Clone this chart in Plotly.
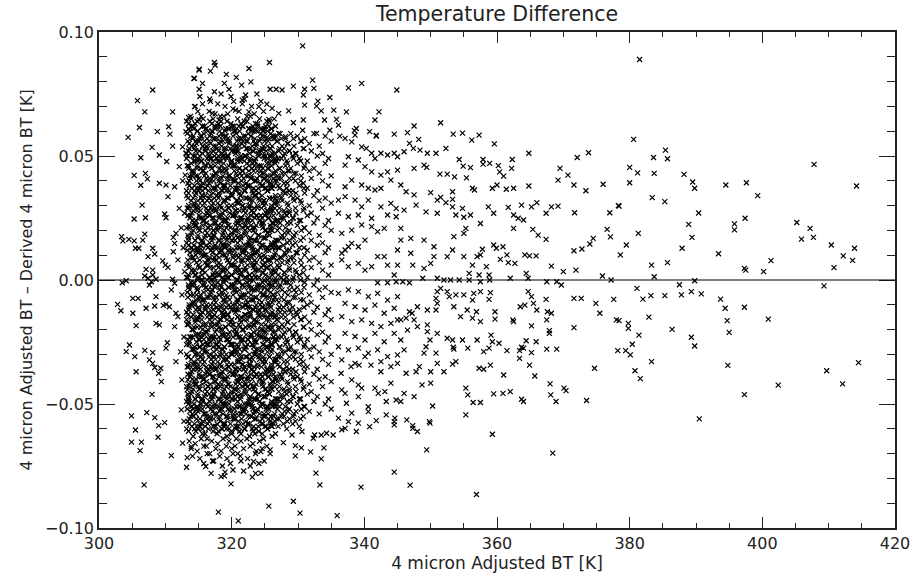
import plotly.graph_objects as go

# ---------------------------------------------------------------------------
# Brightness-temperature residuals: 4 micron adjusted BT [K] vs
# (adjusted BT - derived BT).  Values are kept region by region.
# ---------------------------------------------------------------------------

# Dense cloud, 313-326.6 K.  One row of BT values [K] per band, with the
# matching differences in millikelvin in core_diff_mk.
core_bt = [
    [313.2,313.9,314.5,315.4,315.9,316.7,317.2,318.0,318.8,319.3,320.1,320.9,321.4,322.3,322.8,323.6,324.2,325.1,325.7,326.4],
    [313.5,314.3,314.8,315.6,316.4,317.0,317.9,318.4,319.1,319.9,320.5,321.1,321.9,322.6,323.2,323.9,324.7,325.3,326.0,326.6],
    [313.3,314.0,314.9,315.3,316.1,316.9,317.5,318.2,318.6,319.5,320.3,320.7,321.6,322.1,323.0,323.4,324.4,324.9,325.6,326.2],
    [313.7,314.2,315.1,315.8,316.3,317.1,317.7,318.5,319.2,319.7,320.6,321.3,321.8,322.5,323.3,323.8,324.6,325.2,325.9,326.5],
    [313.4,314.1,314.7,315.5,316.2,316.6,317.4,318.1,319.0,319.4,320.2,321.0,321.5,322.4,322.9,323.7,324.3,324.8,325.5,326.3],
    [313.6,314.4,315.0,315.7,316.0,316.8,317.6,318.3,318.9,319.6,320.4,320.8,321.7,322.2,323.1,323.5,324.5,325.0,325.8,326.1],
    [313.2,314.0,314.6,315.2,316.0,316.5,317.3,318.0,318.7,319.2,320.0,320.6,321.2,322.0,322.7,323.2,324.0,324.6,325.4,326.0],
    [313.5,314.2,314.9,315.6,316.3,317.2,317.8,318.6,319.3,320.0,320.7,321.4,322.0,322.7,323.5,324.1,324.8,325.4,326.1,326.6],
    [313.2,313.9,314.5,315.4,315.9,316.7,317.2,318.0,318.8,319.3,320.1,320.9,321.4,322.3,322.8,323.6,324.2,325.1,325.7,326.4],
    [313.5,314.3,314.8,315.6,316.4,317.0,317.9,318.4,319.1,319.9,320.5,321.1,321.9,322.6,323.2,323.9,324.7,325.3,326.0,326.6],
    [313.3,314.0,314.9,315.3,316.1,316.9,317.5,318.2,318.6,319.5,320.3,320.7,321.6,322.1,323.0,323.4,324.4,324.9,325.6,326.2],
    [313.7,314.2,315.1,315.8,316.3,317.1,317.7,318.5,319.2,319.7,320.6,321.3,321.8,322.5,323.3,323.8,324.6,325.2,325.9,326.5],
    [313.4,314.1,314.7,315.5,316.2,316.6,317.4,318.1,319.0,319.4,320.2,321.0,321.5,322.4,322.9,323.7,324.3,324.8,325.5,326.3],
    [313.6,314.4,315.0,315.7,316.0,316.8,317.6,318.3,318.9,319.6,320.4,320.8,321.7,322.2,323.1,323.5,324.5,325.0,325.8,326.1],
    [313.2,314.0,314.6,315.2,316.0,316.5,317.3,318.0,318.7,319.2,320.0,320.6,321.2,322.0,322.7,323.2,324.0,324.6,325.4,326.0],
    [313.5,314.2,314.9,315.6,316.3,317.2,317.8,318.6,319.3,320.0,320.7,321.4,322.0,322.7,323.5,324.1,324.8,325.4,326.1,326.6],
    [313.2,313.9,314.5,315.4,315.9,316.7,317.2,318.0,318.8,319.3,320.1,320.9,321.4,322.3,322.8,323.6,324.2,325.1,325.7,326.4],
    [313.5,314.3,314.8,315.6,316.4,317.0,317.9,318.4,319.1,319.9,320.5,321.1,321.9,322.6,323.2,323.9,324.7,325.3,326.0,326.6],
    [313.3,314.0,314.9,315.3,316.1,316.9,317.5,318.2,318.6,319.5,320.3,320.7,321.6,322.1,323.0,323.4,324.4,324.9,325.6,326.2],
    [313.7,314.2,315.1,315.8,316.3,317.1,317.7,318.5,319.2,319.7,320.6,321.3,321.8,322.5,323.3,323.8,324.6,325.2,325.9,326.5],
    [313.4,314.1,314.7,315.5,316.2,316.6,317.4,318.1,319.0,319.4,320.2,321.0,321.5,322.4,322.9,323.7,324.3,324.8,325.5,326.3],
    [313.6,314.4,315.0,315.7,316.0,316.8,317.6,318.3,318.9,319.6,320.4,320.8,321.7,322.2,323.1,323.5,324.5,325.0,325.8,326.1],
    [313.2,314.0,314.6,315.2,316.0,316.5,317.3,318.0,318.7,319.2,320.0,320.6,321.2,322.0,322.7,323.2,324.0,324.6,325.4,326.0],
    [313.5,314.2,314.9,315.6,316.3,317.2,317.8,318.6,319.3,320.0,320.7,321.4,322.0,322.7,323.5,324.1,324.8,325.4,326.1,326.6],
    [313.2,313.9,314.5,315.4,315.9,316.7,317.2,318.0,318.8,319.3,320.1,320.9,321.4,322.3,322.8,323.6,324.2,325.1,325.7,326.4],
    [313.5,314.3,314.8,315.6,316.4,317.0,317.9,318.4,319.1,319.9,320.5,321.1,321.9,322.6,323.2,323.9,324.7,325.3,326.0,326.6],
    [313.3,314.0,314.9,315.3,316.1,316.9,317.5,318.2,318.6,319.5,320.3,320.7,321.6,322.1,323.0,323.4,324.4,324.9,325.6,326.2],
    [313.7,314.2,315.1,315.8,316.3,317.1,317.7,318.5,319.2,319.7,320.6,321.3,321.8,322.5,323.3,323.8,324.6,325.2,325.9,326.5],
    [313.4,314.1,314.7,315.5,316.2,316.6,317.4,318.1,319.0,319.4,320.2,321.0,321.5,322.4,322.9,323.7,324.3,324.8,325.5,326.3],
    [313.6,314.4,315.0,315.7,316.0,316.8,317.6,318.3,318.9,319.6,320.4,320.8,321.7,322.2,323.1,323.5,324.5,325.0,325.8,326.1],
    [313.2,314.0,314.6,315.2,316.0,316.5,317.3,318.0,318.7,319.2,320.0,320.6,321.2,322.0,322.7,323.2,324.0,324.6,325.4,326.0],
    [313.5,314.2,314.9,315.6,316.3,317.2,317.8,318.6,319.3,320.0,320.7,321.4,322.0,322.7,323.5,324.1,324.8,325.4,326.1,326.6],
    [313.2,313.9,314.5,315.4,315.9,316.7,317.2,318.0,318.8,319.3,320.1,320.9,321.4,322.3,322.8,323.6,324.2,325.1,325.7,326.4],
    [313.5,314.3,314.8,315.6,316.4,317.0,317.9,318.4,319.1,319.9,320.5,321.1,321.9,322.6,323.2,323.9,324.7,325.3,326.0,326.6],
    [313.3,314.0,314.9,315.3,316.1,316.9,317.5,318.2,318.6,319.5,320.3,320.7,321.6,322.1,323.0,323.4,324.4,324.9,325.6,326.2],
    [313.7,314.2,315.1,315.8,316.3,317.1,317.7,318.5,319.2,319.7,320.6,321.3,321.8,322.5,323.3,323.8,324.6,325.2,325.9,326.5],
    [313.4,314.1,314.7,315.5,316.2,316.6,317.4,318.1,319.0,319.4,320.2,321.0,321.5,322.4,322.9,323.7,324.3,324.8,325.5,326.3],
    [313.6,314.4,315.0,315.7,316.0,316.8,317.6,318.3,318.9,319.6,320.4,320.8,321.7,322.2,323.1,323.5,324.5,325.0,325.8,326.1],
    [313.2,314.0,314.6,315.2,316.0,316.5,317.3,318.0,318.7,319.2,320.0,320.6,321.2,322.0,322.7,323.2,324.0,324.6,325.4,326.0],
    [313.5,314.2,314.9,315.6,316.3,317.2,317.8,318.6,319.3,320.0,320.7,321.4,322.0,322.7,323.5,324.1,324.8,325.4,326.1,326.6],
    [313.2,313.9,314.5,315.4,315.9,316.7,317.2,318.0,318.8,319.3,320.1,320.9,321.4,322.3,322.8,323.6,324.2,325.1,325.7,326.4],
    [313.5,314.3,314.8,315.6,316.4,317.0,317.9,318.4,319.1,319.9,320.5,321.1,321.9,322.6,323.2,323.9,324.7,325.3,326.0,326.6],
    [313.3,314.0,314.9,315.3,316.1,316.9,317.5,318.2,318.6,319.5,320.3,320.7,321.6,322.1,323.0,323.4,324.4,324.9,325.6,326.2],
    [313.7,314.2,315.1,315.8,316.3,317.1,317.7,318.5,319.2,319.7,320.6,321.3,321.8,322.5,323.3,323.8,324.6,325.2,325.9,326.5],
    [313.4,314.1,314.7,315.5,316.2,316.6,317.4,318.1,319.0,319.4,320.2,321.0,321.5,322.4,322.9,323.7,324.3,324.8,325.5,326.3],
    [313.6,314.4,315.0,315.7,316.0,316.8,317.6,318.3,318.9,319.6,320.4,320.8,321.7,322.2,323.1,323.5,324.5,325.0,325.8,326.1],
    [313.2,314.0,314.6,315.2,316.0,316.5,317.3,318.0,318.7,319.2,320.0,320.6,321.2,322.0,322.7,323.2,324.0,324.6,325.4,326.0],
    [313.5,314.2,314.9,315.6,316.3,317.2,317.8,318.6,319.3,320.0,320.7,321.4,322.0,322.7,323.5,324.1,324.8,325.4,326.1,326.6],
    [313.2,313.9,314.5,315.4,315.9,316.7,317.2,318.0,318.8,319.3,320.1,320.9,321.4,322.3,322.8,323.6,324.2,325.1,325.7,326.4],
    [313.5,314.3,314.8,315.6,316.4,317.0,317.9,318.4,319.1,319.9,320.5,321.1,321.9,322.6,323.2,323.9,324.7,325.3,326.0,326.6],
    [313.3,314.0,314.9,315.3,316.1,316.9,317.5,318.2,318.6,319.5,320.3,320.7,321.6,322.1,323.0,323.4,324.4,324.9,325.6,326.2],
    [313.7,314.2,315.1,315.8,316.3,317.1,317.7,318.5,319.2,319.7,320.6,321.3,321.8,322.5,323.3,323.8,324.6,325.2,325.9,326.5],
    [313.4,314.1,314.7,315.5,316.2,316.6,317.4,318.1,319.0,319.4,320.2,321.0,321.5,322.4,322.9,323.7,324.3,324.8,325.5,326.3],
    [313.6,314.4,315.0,315.7,316.0,316.8,317.6,318.3,318.9,319.6,320.4,320.8,321.7,322.2,323.1,323.5,324.5,325.0,325.8,326.1],
    [313.2,314.0,314.6,315.2,316.0,316.5,317.3,318.0,318.7,319.2,320.0,320.6,321.2,322.0,322.7,323.2,324.0,324.6,325.4,326.0],
    [313.5,314.2,314.9,315.6,316.3,317.2,317.8,318.6,319.3,320.0,320.7,321.4,322.0,322.7,323.5,324.1,324.8,325.4,326.1,326.6],
    [313.2,313.9,314.5,315.4,315.9,316.7,317.2,318.0,318.8,319.3,320.1,320.9,321.4,322.3,322.8,323.6,324.2,325.1,325.7,326.4],
    [313.5,314.3,314.8,315.6,316.4,317.0,317.9,318.4,319.1,319.9,320.5,321.1,321.9,322.6,323.2,323.9,324.7,325.3,326.0,326.6],
    [313.3,314.0,314.9,315.3,316.1,316.9,317.5,318.2,318.6,319.5,320.3,320.7,321.6,322.1,323.0,323.4,324.4,324.9,325.6,326.2],
    [313.7,314.2,315.1,315.8,316.3,317.1,317.7,318.5,319.2,319.7,320.6,321.3,321.8,322.5,323.3,323.8,324.6,325.2,325.9,326.5],
    [313.4,314.1,314.7,315.5,316.2,316.6,317.4,318.1,319.0,319.4,320.2,321.0,321.5,322.4,322.9,323.7,324.3,324.8,325.5,326.3],
    [313.6,314.4,315.0,315.7,316.0,316.8,317.6,318.3,318.9,319.6,320.4,320.8,321.7,322.2,323.1,323.5,324.5,325.0,325.8,326.1],
    [313.2,314.0,314.6,315.2,316.0,316.5,317.3,318.0,318.7,319.2,320.0,320.6,321.2,322.0,322.7,323.2,324.0,324.6,325.4,326.0],
    [313.5,314.2,314.9,315.6,316.3,317.2,317.8,318.6,319.3,320.0,320.7,321.4,322.0,322.7,323.5,324.1,324.8,325.4,326.1,326.6],
    # upper fringe
    [313.8,314.9,315.7,316.6,317.5,318.3,319.4,320.2,321.1,322.3,323.4,324.8],
    [314.5,315.6,316.8,317.9,319.0,320.3,321.6,323.0,324.4],
    [315.2,316.7,318.4,319.9,321.9,323.8],
    # lower fringe
    [313.6,314.5,315.4,316.2,317.0,317.9,318.7,319.6,320.5,321.4,322.3,323.2,324.2,325.3],
    [313.9,314.8,315.8,316.7,317.6,318.4,319.2,320.0,320.9,321.8,322.8,323.7,324.6,325.8],
    [314.1,315.2,316.3,317.3,318.2,319.3,320.2,321.3,322.4,323.6,324.9],
    [315.8,317.1,318.6,319.8,321.4,322.8,324.1],
    [316.9,318.9,321.8,323.6],
]
core_diff_mk = [
    [64,65,63,66,62,64,65,63,66,64,62,65,63,64,66,63,65,62,64,65],
    [63,61,64,62,60,63,62,64,61,63,60,62,64,61,62,63,60,64,61,62],
    [59,62,60,58,61,59,62,60,58,61,60,59,62,58,61,60,59,61,62,58],
    [60,58,56,59,57,60,57,59,58,56,60,57,58,59,56,60,58,57,59,57],
    [56,57,55,58,54,56,57,55,58,56,54,57,55,56,58,55,57,54,56,57],
    [55,53,56,54,52,55,54,56,53,55,52,54,56,53,54,55,52,56,53,54],
    [51,54,52,50,53,51,54,52,50,53,52,51,54,50,53,52,51,53,54,50],
    [52,50,48,51,49,52,49,51,50,48,52,49,50,51,48,52,50,49,51,49],
    [49,47,50,48,46,49,48,50,47,49,46,48,50,47,48,49,46,50,47,48],
    [45,48,46,44,47,45,48,46,44,47,46,45,48,44,47,46,45,47,48,44],
    [46,44,42,45,43,46,43,45,44,42,46,43,44,45,42,46,44,43,45,43],
    [42,43,41,44,40,42,43,41,44,42,40,43,41,42,44,41,43,40,42,43],
    [39,42,40,38,41,39,42,40,38,41,40,39,42,38,41,40,39,41,42,38],
    [40,38,36,39,37,40,37,39,38,36,40,37,38,39,36,40,38,37,39,37],
    [36,37,35,38,34,36,37,35,38,36,34,37,35,36,38,35,37,34,36,37],
    [35,33,36,34,32,35,34,36,33,35,32,34,36,33,34,35,32,36,33,34],
    [34,32,30,33,31,34,31,33,32,30,34,31,32,33,30,34,32,31,33,31],
    [30,31,29,32,28,30,31,29,32,30,28,31,29,30,32,29,31,28,30,31],
    [29,27,30,28,26,29,28,30,27,29,26,28,30,27,28,29,26,30,27,28],
    [25,28,26,24,27,25,28,26,24,27,26,25,28,24,27,26,25,27,28,24],
    [26,24,22,25,23,26,23,25,24,22,26,23,24,25,22,26,24,23,25,23],
    [22,23,21,24,20,22,23,21,24,22,20,23,21,22,24,21,23,20,22,23],
    [21,19,22,20,18,21,20,22,19,21,18,20,22,19,20,21,18,22,19,20],
    [17,20,18,16,19,17,20,18,16,19,18,17,20,16,19,18,17,19,20,16],
    [15,18,16,14,17,15,18,16,14,17,16,15,18,14,17,16,15,17,18,14],
    [16,14,12,15,13,16,13,15,14,12,16,13,14,15,12,16,14,13,15,13],
    [12,13,11,14,10,12,13,11,14,12,10,13,11,12,14,11,13,10,12,13],
    [11,9,12,10,8,11,10,12,9,11,8,10,12,9,10,11,8,12,9,10],
    [8,9,7,10,6,8,9,7,10,8,6,9,7,8,10,7,9,6,8,9],
    [5,8,6,4,7,5,8,6,4,7,6,5,8,4,7,6,5,7,8,4],
    [6,4,2,5,3,6,3,5,4,2,6,3,4,5,2,6,4,3,5,3],
    [2,3,1,4,0,2,3,1,4,2,0,3,1,2,4,1,3,0,2,3],
    [1,-1,2,0,-2,1,0,2,-1,1,-2,0,2,-1,0,1,-2,2,-1,0],
    [-2,-1,-3,0,-4,-2,-1,-3,0,-2,-4,-1,-3,-2,0,-3,-1,-4,-2,-1],
    [-5,-2,-4,-6,-3,-5,-2,-4,-6,-3,-4,-5,-2,-6,-3,-4,-5,-3,-2,-6],
    [-4,-6,-8,-5,-7,-4,-7,-5,-6,-8,-4,-7,-6,-5,-8,-4,-6,-7,-5,-7],
    [-7,-9,-6,-8,-10,-7,-8,-6,-9,-7,-10,-8,-6,-9,-8,-7,-10,-6,-9,-8],
    [-10,-9,-11,-8,-12,-10,-9,-11,-8,-10,-12,-9,-11,-10,-8,-11,-9,-12,-10,-9],
    [-13,-10,-12,-14,-11,-13,-10,-12,-14,-11,-12,-13,-10,-14,-11,-12,-13,-11,-10,-14],
    [-12,-14,-16,-13,-15,-12,-15,-13,-14,-16,-12,-15,-14,-13,-16,-12,-14,-15,-13,-15],
    [-16,-15,-17,-14,-18,-16,-15,-17,-14,-16,-18,-15,-17,-16,-14,-17,-15,-18,-16,-15],
    [-17,-19,-16,-18,-20,-17,-18,-16,-19,-17,-20,-18,-16,-19,-18,-17,-20,-16,-19,-18],
    [-18,-20,-22,-19,-21,-18,-21,-19,-20,-22,-18,-21,-20,-19,-22,-18,-20,-21,-19,-21],
    [-23,-20,-22,-24,-21,-23,-20,-22,-24,-21,-22,-23,-20,-24,-21,-22,-23,-21,-20,-24],
    [-24,-23,-25,-22,-26,-24,-23,-25,-22,-24,-26,-23,-25,-24,-22,-25,-23,-26,-24,-23],
    [-25,-27,-24,-26,-28,-25,-26,-24,-27,-25,-28,-26,-24,-27,-26,-25,-28,-24,-27,-26],
    [-26,-28,-30,-27,-29,-26,-29,-27,-28,-30,-26,-29,-28,-27,-30,-26,-28,-29,-27,-29],
    [-31,-28,-30,-32,-29,-31,-28,-30,-32,-29,-30,-31,-28,-32,-29,-30,-31,-29,-28,-32],
    [-30,-32,-34,-31,-33,-30,-33,-31,-32,-34,-30,-33,-32,-31,-34,-30,-32,-33,-31,-33],
    [-34,-33,-35,-32,-36,-34,-33,-35,-32,-34,-36,-33,-35,-34,-32,-35,-33,-36,-34,-33],
    [-35,-37,-34,-36,-38,-35,-36,-34,-37,-35,-38,-36,-34,-37,-36,-35,-38,-34,-37,-36],
    [-39,-36,-38,-40,-37,-39,-36,-38,-40,-37,-38,-39,-36,-40,-37,-38,-39,-37,-36,-40],
    [-38,-40,-42,-39,-41,-38,-41,-39,-40,-42,-38,-41,-40,-39,-42,-38,-40,-41,-39,-41],
    [-42,-41,-43,-40,-44,-42,-41,-43,-40,-42,-44,-41,-43,-42,-40,-43,-41,-44,-42,-41],
    [-43,-45,-42,-44,-46,-43,-44,-42,-45,-43,-46,-44,-42,-45,-44,-43,-46,-42,-45,-44],
    [-47,-44,-46,-48,-45,-47,-44,-46,-48,-45,-46,-47,-44,-48,-45,-46,-47,-45,-44,-48],
    [-49,-46,-48,-50,-47,-49,-46,-48,-50,-47,-48,-49,-46,-50,-47,-48,-49,-47,-46,-50],
    [-48,-50,-52,-49,-51,-48,-51,-49,-50,-52,-48,-51,-50,-49,-52,-48,-50,-51,-49,-51],
    [-52,-51,-53,-50,-54,-52,-51,-53,-50,-52,-54,-51,-53,-52,-50,-53,-51,-54,-52,-51],
    [-53,-55,-52,-54,-56,-53,-54,-52,-55,-53,-56,-54,-52,-55,-54,-53,-56,-52,-55,-54],
    [-57,-54,-56,-58,-55,-57,-54,-56,-58,-55,-56,-57,-54,-58,-55,-56,-57,-55,-54,-58],
    [-56,-58,-60,-57,-59,-56,-59,-57,-58,-60,-56,-59,-58,-57,-60,-56,-58,-59,-57,-59],
    [-60,-59,-61,-58,-62,-60,-59,-61,-58,-60,-62,-59,-61,-60,-58,-61,-59,-62,-60,-59],
    [-61,-63,-60,-62,-64,-61,-62,-60,-63,-61,-64,-62,-60,-63,-62,-61,-64,-60,-63,-62],
    [66,68,65,68,67,66,67,69,68,66,67,68],
    [70,71,72,71,70,72,71,70,72],
    [74,73,75,74,73,75],
    [-65,-66,-64,-67,-65,-66,-64,-65,-67,-65,-64,-66,-65,-67],
    [-68,-69,-67,-70,-68,-69,-67,-68,-70,-68,-67,-69,-68,-70],
    [-71,-72,-70,-73,-71,-72,-70,-71,-72,-70,-73],
    [-74,-73,-75,-74,-73,-75,-74],
    [-78,-79,-77,-78],
]

# Points lying between the rows above, inside the darkest part of the cloud
core_fill_bt = [
    [313.5,314.2,314.8,315.6,316.2,317.0,317.5,318.3,319.0,319.6,320.4,321.2,321.7,322.6,323.1,323.9,324.5,325.4,326.0],
    [313.8,314.6,315.2,315.9,316.7,317.3,318.1,318.7,319.4,320.2,320.8,321.5,322.2,322.9,323.5,324.2,325.0,325.6,326.3],
    [313.6,314.4,315.1,315.6,316.4,317.2,317.8,318.5,318.9,319.8,320.6,321.0,321.9,322.4,323.3,323.7,324.7,325.2,325.9],
    [313.4,314.5,314.9,315.5,316.6,316.9,317.4,318.2,318.8,319.5,320.0,320.9,321.3,322.1,322.8,323.4,324.1,324.9,325.7],
    [313.5,314.2,314.8,315.6,316.2,317.0,317.5,318.3,319.0,319.6,320.4,321.2,321.7,322.6,323.1,323.9,324.5,325.4,326.0],
    [313.8,314.6,315.2,315.9,316.7,317.3,318.1,318.7,319.4,320.2,320.8,321.5,322.2,322.9,323.5,324.2,325.0,325.6,326.3],
    [313.6,314.4,315.1,315.6,316.4,317.2,317.8,318.5,318.9,319.8,320.6,321.0,321.9,322.4,323.3,323.7,324.7,325.2,325.9],
    [313.4,314.5,314.9,315.5,316.6,316.9,317.4,318.2,318.8,319.5,320.0,320.9,321.3,322.1,322.8,323.4,324.1,324.9,325.7],
    [313.5,314.2,314.8,315.6,316.2,317.0,317.5,318.3,319.0,319.6,320.4,321.2,321.7,322.6,323.1,323.9,324.5,325.4,326.0],
    [313.8,314.6,315.2,315.9,316.7,317.3,318.1,318.7,319.4,320.2,320.8,321.5,322.2,322.9,323.5,324.2,325.0,325.6,326.3],
    [313.6,314.4,315.1,315.6,316.4,317.2,317.8,318.5,318.9,319.8,320.6,321.0,321.9,322.4,323.3,323.7,324.7,325.2,325.9],
    [313.4,314.5,314.9,315.5,316.6,316.9,317.4,318.2,318.8,319.5,320.0,320.9,321.3,322.1,322.8,323.4,324.1,324.9,325.7],
    [313.5,314.2,314.8,315.6,316.2,317.0,317.5,318.3,319.0,319.6,320.4,321.2,321.7,322.6,323.1,323.9,324.5,325.4,326.0],
    [313.8,314.6,315.2,315.9,316.7,317.3,318.1,318.7,319.4,320.2,320.8,321.5,322.2,322.9,323.5,324.2,325.0,325.6,326.3],
    [313.6,314.4,315.1,315.6,316.4,317.2,317.8,318.5,318.9,319.8,320.6,321.0,321.9,322.4,323.3,323.7,324.7,325.2,325.9],
    [313.4,314.5,314.9,315.5,316.6,316.9,317.4,318.2,318.8,319.5,320.0,320.9,321.3,322.1,322.8,323.4,324.1,324.9,325.7],
    [313.5,314.2,314.8,315.6,316.2,317.0,317.5,318.3,319.0,319.6,320.4,321.2,321.7,322.6,323.1,323.9,324.5,325.4,326.0],
    [313.8,314.6,315.2,315.9,316.7,317.3,318.1,318.7,319.4,320.2,320.8,321.5,322.2,322.9,323.5,324.2,325.0,325.6,326.3],
    [313.6,314.4,315.1,315.6,316.4,317.2,317.8,318.5,318.9,319.8,320.6,321.0,321.9,322.4,323.3,323.7,324.7,325.2,325.9],
    [313.4,314.5,314.9,315.5,316.6,316.9,317.4,318.2,318.8,319.5,320.0,320.9,321.3,322.1,322.8,323.4,324.1,324.9,325.7],
    [313.5,314.2,314.8,315.6,316.2,317.0,317.5,318.3,319.0,319.6,320.4,321.2,321.7,322.6,323.1,323.9,324.5,325.4,326.0],
    [313.8,314.6,315.2,315.9,316.7,317.3,318.1,318.7,319.4,320.2,320.8,321.5,322.2,322.9,323.5,324.2,325.0,325.6,326.3],
    [313.6,314.4,315.1,315.6,316.4,317.2,317.8,318.5,318.9,319.8,320.6,321.0,321.9,322.4,323.3,323.7,324.7,325.2,325.9],
    [313.4,314.5,314.9,315.5,316.6,316.9,317.4,318.2,318.8,319.5,320.0,320.9,321.3,322.1,322.8,323.4,324.1,324.9,325.7],
    [313.5,314.2,314.8,315.6,316.2,317.0,317.5,318.3,319.0,319.6,320.4,321.2,321.7,322.6,323.1,323.9,324.5,325.4,326.0],
    [313.8,314.6,315.2,315.9,316.7,317.3,318.1,318.7,319.4,320.2,320.8,321.5,322.2,322.9,323.5,324.2,325.0,325.6,326.3],
    [313.6,314.4,315.1,315.6,316.4,317.2,317.8,318.5,318.9,319.8,320.6,321.0,321.9,322.4,323.3,323.7,324.7,325.2,325.9],
    [313.4,314.5,314.9,315.5,316.6,316.9,317.4,318.2,318.8,319.5,320.0,320.9,321.3,322.1,322.8,323.4,324.1,324.9,325.7],
    [313.5,314.2,314.8,315.6,316.2,317.0,317.5,318.3,319.0,319.6,320.4,321.2,321.7,322.6,323.1,323.9,324.5,325.4,326.0],
    [313.8,314.6,315.2,315.9,316.7,317.3,318.1,318.7,319.4,320.2,320.8,321.5,322.2,322.9,323.5,324.2,325.0,325.6,326.3],
    [313.6,314.4,315.1,315.6,316.4,317.2,317.8,318.5,318.9,319.8,320.6,321.0,321.9,322.4,323.3,323.7,324.7,325.2,325.9],
]
core_fill_diff_mk = [
    [61,62,60,62,61,60,61,62,60,61,62,60,62,61,60,62,61,60,61],
    [58,56,57,56,58,57,58,56,57,58,56,57,56,58,57,56,58,57,58],
    [53,54,52,54,53,52,53,54,52,53,54,52,54,53,52,54,53,52,53],
    [50,48,49,48,50,49,50,48,49,50,48,49,48,50,49,48,50,49,50],
    [46,44,45,44,46,45,46,44,45,46,44,45,44,46,45,44,46,45,46],
    [41,42,40,42,41,40,41,42,40,41,42,40,42,41,40,42,41,40,41],
    [38,36,37,36,38,37,38,36,37,38,36,37,36,38,37,36,38,37,38],
    [33,34,32,34,33,32,33,34,32,33,34,32,34,33,32,34,33,32,33],
    [29,30,28,30,29,28,29,30,28,29,30,28,30,29,28,30,29,28,29],
    [26,24,25,24,26,25,26,24,25,26,24,25,24,26,25,24,26,25,26],
    [21,22,20,22,21,20,21,22,20,21,22,20,22,21,20,22,21,20,21],
    [18,16,17,16,18,17,18,16,17,18,16,17,16,18,17,16,18,17,18],
    [14,12,13,12,14,13,14,12,13,14,12,13,12,14,13,12,14,13,14],
    [9,10,8,10,9,8,9,10,8,9,10,8,10,9,8,10,9,8,9],
    [6,4,5,4,6,5,6,4,5,6,4,5,4,6,5,4,6,5,6],
    [1,2,0,2,1,0,1,2,0,1,2,0,2,1,0,2,1,0,1],
    [-3,-2,-4,-2,-3,-4,-3,-2,-4,-3,-2,-4,-2,-3,-4,-2,-3,-4,-3],
    [-6,-8,-7,-8,-6,-7,-6,-8,-7,-6,-8,-7,-8,-6,-7,-8,-6,-7,-6],
    [-11,-10,-12,-10,-11,-12,-11,-10,-12,-11,-10,-12,-10,-11,-12,-10,-11,-12,-11],
    [-14,-16,-15,-16,-14,-15,-14,-16,-15,-14,-16,-15,-16,-14,-15,-16,-14,-15,-14],
    [-18,-20,-19,-20,-18,-19,-18,-20,-19,-18,-20,-19,-20,-18,-19,-20,-18,-19,-18],
    [-23,-22,-24,-22,-23,-24,-23,-22,-24,-23,-22,-24,-22,-23,-24,-22,-23,-24,-23],
    [-26,-28,-27,-28,-26,-27,-26,-28,-27,-26,-28,-27,-28,-26,-27,-28,-26,-27,-26],
    [-31,-30,-32,-30,-31,-32,-31,-30,-32,-31,-30,-32,-30,-31,-32,-30,-31,-32,-31],
    [-35,-34,-36,-34,-35,-36,-35,-34,-36,-35,-34,-36,-34,-35,-36,-34,-35,-36,-35],
    [-38,-40,-39,-40,-38,-39,-38,-40,-39,-38,-40,-39,-40,-38,-39,-40,-38,-39,-38],
    [-43,-42,-44,-42,-43,-44,-43,-42,-44,-43,-42,-44,-42,-43,-44,-42,-43,-44,-43],
    [-46,-48,-47,-48,-46,-47,-46,-48,-47,-46,-48,-47,-48,-46,-47,-48,-46,-47,-46],
    [-50,-52,-51,-52,-50,-51,-50,-52,-51,-50,-52,-51,-52,-50,-51,-52,-50,-51,-50],
    [-55,-54,-56,-54,-55,-56,-55,-54,-56,-55,-54,-56,-54,-55,-56,-54,-55,-56,-55],
    [-58,-60,-59,-60,-58,-59,-58,-60,-59,-58,-60,-59,-60,-58,-59,-60,-58,-59,-58],
]

# Shoulder of the cloud, 326.5-335.5 K (differences in millikelvin)
shoulder_bt = [
    [326.6,327.3,328.1,328.9,329.9,331.0,332.4,334.1],
    [326.9,327.6,328.5,329.4,330.5,331.7,333.2,335.0],
    [326.5,327.1,327.9,328.7,329.6,330.8,332.0,333.7],
    [327.0,327.8,328.3,329.2,330.2,331.4,332.9,334.6],
    [326.6,327.3,328.1,328.9,329.9,331.0,332.4,334.1],
    [326.9,327.6,328.5,329.4,330.5,331.7,333.2,335.0],
    [326.5,327.1,327.9,328.7,329.6,330.8,332.0,333.7],
    [327.0,327.8,328.3,329.2,330.2,331.4,332.9,334.6],
    [326.6,327.3,328.1,328.9,329.9,331.0,332.4,334.1],
    [326.9,327.6,328.5,329.4,330.5,331.7,333.2,335.0],
    [326.5,327.1,327.9,328.7,329.6,330.8,332.0,333.7],
    [327.0,327.8,328.3,329.2,330.2,331.4,332.9,334.6],
    [326.6,327.3,328.1,328.9,329.9,331.0,332.4,334.1],
    [326.9,327.6,328.5,329.4,330.5,331.7,333.2,335.0],
    [326.5,327.1,327.9,328.7,329.6,330.8,332.0,333.7],
    [327.0,327.8,328.3,329.2,330.2,331.4,332.9,334.6],
    [326.6,327.3,328.1,328.9,329.9,331.0,332.4,334.1],
    [326.9,327.6,328.5,329.4,330.5,331.7,333.2,335.0],
    [326.5,327.1,327.9,328.7,329.6,330.8,332.0,333.7],
    [327.0,327.8,328.3,329.2,330.2,331.4,332.9,334.6],
    [326.6,327.3,328.1,328.9,329.9,331.0,332.4,334.1],
    [326.9,327.6,328.5,329.4,330.5,331.7,333.2,335.0],
    [326.5,327.1,327.9,328.7,329.6,330.8,332.0,333.7],
    [327.0,327.8,328.3,329.2,330.2,331.4,332.9,334.6],
    [326.6,327.3,328.1,328.9,329.9,331.0,332.4,334.1],
    [326.9,327.6,328.5,329.4,330.5,331.7,333.2,335.0],
    [326.5,327.1,327.9,328.7,329.6,330.8,332.0,333.7],
    [327.0,327.8,328.3,329.2,330.2,331.4,332.9,334.6],
    [326.6,327.3,328.1,328.9,329.9,331.0,332.4,334.1],
    [326.9,327.6,328.5,329.4,330.5,331.7,333.2,335.0],
    [326.5,327.1,327.9,328.7,329.6,330.8,332.0,333.7],
    [327.0,327.8,328.3,329.2,330.2,331.4,332.9,334.6],
    [326.6,327.3,328.1,328.9,329.9,331.0,332.4,334.1],
    [326.9,327.6,328.5,329.4,330.5,331.7,333.2,335.0],
    [326.5,327.1,327.9,328.7,329.6,330.8,332.0,333.7],
    [327.0,327.8,328.3,329.2,330.2,331.4,332.9,334.6],
    [326.6,327.3,328.1,328.9,329.9,331.0,332.4,334.1],
    [326.9,327.6,328.5,329.4,330.5,331.7,333.2,335.0],
    [326.5,327.1,327.9,328.7,329.6,330.8],
    [327.0,327.8,328.3,329.2,330.2],
    # inner edge of the shoulder
    [326.8,327.5,328.4,329.3,330.4],
    [327.2,328.0,328.7,329.7,330.9],
    [326.8,327.5,328.4,329.3,330.4],
    [327.2,328.0,328.7,329.7,330.9],
    [326.8,327.5,328.4,329.3,330.4],
    [327.2,328.0,328.7,329.7,330.9],
    [326.8,327.5,328.4,329.3,330.4],
    [327.2,328.0,328.7,329.7,330.9],
    [326.8,327.5,328.4,329.3,330.4],
    [327.2,328.0,328.7,329.7,330.9],
    [326.8,327.5,328.4,329.3,330.4],
    [327.2,328.0,328.7,329.7,330.9],
    [326.8,327.5,328.4,329.3,330.4],
    [327.2,328.0,328.7,329.7,330.9],
    [326.8,327.5,328.4,329.3,330.4],
    [327.2,328.0,328.7,329.7,330.9],
    [326.8,327.5,328.4,329.3,330.4],
    [327.2,328.0,328.7,329.7,330.9],
    [326.8,327.5,328.4,329.3,330.4],
    [327.2,328.0,328.7,329.7,330.9],
    [326.8,327.5,328.4,329.3,330.4],
    [327.2,328.0,328.7,329.7,330.9],
    [326.8,327.5,328.4,329.3,330.4],
    [327.2,328.0,328.7,329.7,330.9],
    [326.8,327.5,328.4,329.3,330.4],
    [327.2,328.0,328.7,329.7,330.9],
    [326.8,327.5,328.4,329.3,330.4],
    [327.2,328.0,328.7,329.7,330.9],
    [326.8,327.5,328.4,329.3,330.4],
]
shoulder_diff_mk = [
    [58,59,57,59,58,57,59,58],
    [56,54,55,54,56,55,54,56],
    [51,52,53,52,51,53,52,51],
    [49,50,48,50,49,48,50,49],
    [47,45,46,45,47,46,45,47],
    [42,43,44,43,42,44,43,42],
    [40,41,39,41,40,39,41,40],
    [38,36,37,36,38,37,36,38],
    [33,34,35,34,33,35,34,33],
    [31,32,30,32,31,30,32,31],
    [29,27,28,27,29,28,27,29],
    [24,25,26,25,24,26,25,24],
    [22,23,21,23,22,21,23,22],
    [20,18,19,18,20,19,18,20],
    [15,16,17,16,15,17,16,15],
    [13,14,12,14,13,12,14,13],
    [11,9,10,9,11,10,9,11],
    [6,7,8,7,6,8,7,6],
    [4,5,3,5,4,3,5,4],
    [2,0,1,0,2,1,0,2],
    [-3,-2,-1,-2,-3,-1,-2,-3],
    [-5,-4,-6,-4,-5,-6,-4,-5],
    [-7,-9,-8,-9,-7,-8,-9,-7],
    [-12,-11,-10,-11,-12,-10,-11,-12],
    [-14,-13,-15,-13,-14,-15,-13,-14],
    [-16,-18,-17,-18,-16,-17,-18,-16],
    [-21,-20,-19,-20,-21,-19,-20,-21],
    [-23,-22,-24,-22,-23,-24,-22,-23],
    [-25,-27,-26,-27,-25,-26,-27,-25],
    [-30,-29,-28,-29,-30,-28,-29,-30],
    [-32,-31,-33,-31,-32,-33,-31,-32],
    [-34,-36,-35,-36,-34,-35,-36,-34],
    [-39,-38,-37,-38,-39,-37,-38,-39],
    [-41,-40,-42,-40,-41,-42,-40,-41],
    [-43,-45,-44,-45,-43,-44,-45,-43],
    [-48,-47,-46,-47,-48,-46,-47,-48],
    [-50,-49,-51,-49,-50,-51,-49,-50],
    [-52,-54,-53,-54,-52,-53,-54,-52],
    [-57,-56,-55,-56,-57,-55],
    [-59,-58,-60,-58,-59],
    [56,57,55,57,56],
    [53,51,52,51,53],
    [48,49,47,49,48],
    [45,43,44,43,45],
    [40,41,39,41,40],
    [37,35,36,35,37],
    [32,33,31,33,32],
    [29,27,28,27,29],
    [24,25,23,25,24],
    [21,19,20,19,21],
    [16,17,15,17,16],
    [13,11,12,11,13],
    [8,9,7,9,8],
    [5,3,4,3,5],
    [0,1,-1,1,0],
    [-3,-5,-4,-5,-3],
    [-8,-7,-9,-7,-8],
    [-11,-13,-12,-13,-11],
    [-16,-15,-17,-15,-16],
    [-19,-21,-20,-21,-19],
    [-24,-23,-25,-23,-24],
    [-27,-29,-28,-29,-27],
    [-32,-31,-33,-31,-32],
    [-35,-37,-36,-37,-35],
    [-40,-39,-41,-39,-40],
    [-43,-45,-44,-45,-43],
    [-48,-47,-49,-47,-48],
    [-51,-53,-52,-53,-51],
    [-56,-55,-57,-55,-56],
]

# Sparse points below 313 K: (BT [K], difference [K])
cold_pts = [
    (315.1,0.0850),(314.3,0.0813),(308.1,0.0766),(305.8,0.0723),(306.9,0.0678),(311.1,0.0678),(313.5,0.0656),(306.1,0.0615),(308.8,0.0598),(310.5,0.0618),
    (310.7,0.0588),(304.4,0.0575),(313.1,0.0598),(314.1,0.0571),(308.0,0.0535),(309.1,0.0504),(306.3,0.0493),(311.1,0.0540),(312.6,0.0537),(313.1,0.0511),
    (310.2,0.0478),(312.1,0.0457),(305.3,0.0422),(307.0,0.0430),(307.3,0.0408),(306.3,0.0382),(309.1,0.0390),(310.1,0.0383),(311.4,0.0376),(313.0,0.0423),
    (310.4,0.0336),(306.5,0.0302),(312.1,0.0289),(305.3,0.0246),(307.0,0.0251),(309.9,0.0266),(310.1,0.0251),(312.9,0.0269),(303.4,0.0175),(303.6,0.0158),
    (304.5,0.0164),(305.3,0.0158),(305.5,0.0128),(306.0,0.0128),(306.6,0.0161),(306.9,0.0185),(311.2,0.0172),(311.6,0.0188),(311.4,0.0148),(307.4,0.0094),
    (308.1,0.0128),(308.4,0.0105),(309.6,0.0077),(310.0,0.0060),(311.2,0.0114),(311.9,0.0081),(307.1,0.0043),(308.1,0.0040),(312.9,0.0034),(306.9,0.0016),
    (307.4,0.0007),(308.1,0.0020),(310.4,0.0051),(303.5,-0.0011),(304.1,-0.0003),(302.8,-0.0098),(303.3,-0.0124),(305.1,-0.0074),(305.9,-0.0074),(305.1,-0.0134),
    (307.1,-0.0114),(308.6,-0.0067),(308.4,-0.0105),(309.7,-0.0102),(307.6,-0.0020),(307.9,-0.0007),(308.6,0.0003),(311.1,0.0003),(311.4,-0.0013),(310.9,-0.0040),
    (310.1,-0.0098),(310.6,-0.0108),(311.6,-0.0134),(311.9,-0.0148),(311.4,-0.0188),(305.6,-0.0184),(308.6,-0.0175),(309.1,-0.0181),(304.6,-0.0262),(304.1,-0.0289),
    (305.4,-0.0309),(306.9,-0.0284),(308.1,-0.0293),(307.6,-0.0322),(308.1,-0.0336),(308.4,-0.0353),(309.3,-0.0356),(309.0,-0.0376),(309.4,-0.0410),(310.3,-0.0253),
    (310.1,-0.0275),(311.6,-0.0329),(305.6,-0.0370),(312.5,-0.0403),(313.4,-0.0403),(313.3,-0.0443),(308.0,-0.0461),(304.9,-0.0548),(307.2,-0.0535),(308.4,-0.0555),
    (309.0,-0.0587),(309.9,-0.0575),(308.9,-0.0634),(305.5,-0.0605),(304.9,-0.0654),(306.4,-0.0654),(306.2,-0.0688),(310.9,-0.0708),(313.3,-0.0716),(306.8,-0.0826),
    (312.6,-0.0658),(313.9,-0.0672),(313.6,-0.0490),(312.4,-0.0524),(312.4,0.0210),(312.7,0.0130),(312.5,-0.0060),(312.8,-0.0230),(312.3,-0.0290),(312.6,0.0400),
    (312.8,-0.0570),
]

# Upper outliers above the main cloud
upper_pts = [
    (330.7,0.0944),(325.7,0.0877),(317.4,0.0877),(317.5,0.0866),(315.1,0.0846),(316.8,0.0842),(322.6,0.0853),(319.2,0.0829),(320.7,0.0817),(314.4,0.0813),
    (322.9,0.0799),(315.6,0.0793),(315.1,0.0769),(318.9,0.0793),(319.6,0.0769),(321.5,0.0786),(317.4,0.0759),(325.8,0.0769),(326.7,0.0769),(327.6,0.0766),
    (329.3,0.0782),(331.0,0.0769),(332.2,0.0806),(332.4,0.0773),(337.6,0.0775),(339.6,0.0793),(344.9,0.0766),(330.8,0.0746),(331.0,0.0705),(334.8,0.0736),
    (333.0,0.0721),(332.8,0.0701),(333.5,0.0682),(335.4,0.0685),(330.8,0.0645),(334.0,0.0645),(335.8,0.0648),(329.3,0.0634),(330.7,0.0604),(332.8,0.0591),
    (334.8,0.0604),(336.3,0.0580),(338.5,0.0602),(341.8,0.0580),(314.4,0.0699),(315.1,0.0645),(317.1,0.0672),(318.1,0.0645),(322.6,0.0678),(324.1,0.0699),
    (325.3,0.0709),(326.1,0.0692),(327.1,0.0672),(328.6,0.0682),(320.6,0.0685),(321.6,0.0725),(322.1,0.0746),(325.6,0.0648),(327.1,0.0591),(328.1,0.0578),
    (323.6,0.0604),(324.8,0.0604),
]

# Lower outliers below the main cloud
lower_pts = [
    (344.5,-0.0775),(346.9,-0.0827),(356.9,-0.0865),(339.5,-0.0835),(333.3,-0.0826),(332.7,-0.0779),(333.5,-0.0721),(333.9,-0.0677),(331.9,-0.0693),(329.6,-0.0709),
    (329.6,-0.0668),(330.5,-0.0677),(329.3,-0.0892),(325.6,-0.0912),(330.3,-0.0940),(335.9,-0.0950),(321.0,-0.0971),(318.0,-0.0936),(319.9,-0.0822),(324.4,-0.0779),
    (323.1,-0.0795),(320.2,-0.0766),(319.0,-0.0775),(318.4,-0.0793),(313.2,-0.0755),(316.1,-0.0752),(324.4,-0.0692),(325.8,-0.0685),(323.3,-0.0732),(327.8,-0.0656),
    (332.3,-0.0638),(329.1,-0.0625),(330.6,-0.0611),(332.5,-0.0625),(333.5,-0.0625),(334.3,-0.0618),(335.3,-0.0625),(336.6,-0.0604),(349.9,-0.0577),(347.3,-0.0587),
    (344.5,-0.0571),
]

# Middle range, 336-380 K
mid_pts = [
    (351.5,0.0634),(353.4,0.0588),(354.8,0.0592),(356.2,0.0564),(357.3,0.0584),(359.6,0.0549),(364.8,0.0511),(373.8,0.0513),(372.1,0.0494),(346.5,0.0594),
    (347.5,0.0621),(348.2,0.0567),(344.5,0.0588),(341.8,0.0583),(342.2,0.0678),(341.6,0.0645),(337.3,0.0678),(338.8,0.0611),(338.6,0.0584),(340.8,0.0598),
    (346.8,0.0551),(347.4,0.0531),(348.4,0.0524),(349.5,0.0511),(350.8,0.0511),(352.3,0.0531),(354.3,0.0486),(354.9,0.0459),(356.0,0.0453),(357.9,0.0486),
    (357.9,0.0467),(358.9,0.0470),(360.2,0.0461),(360.4,0.0436),(361.0,0.0419),(362.3,0.0486),(362.2,0.0450),(349.4,0.0454),(351.4,0.0427),(352.5,0.0427),
    (353.6,0.0416),(355.4,0.0412),(356.3,0.0370),(356.6,0.0363),(359.3,0.0370),(360.0,0.0383),(361.4,0.0366),(362.5,0.0370),(364.8,0.0379),(369.2,0.0403),
    (370.7,0.0423),(371.6,0.0383),(373.4,0.0360),(369.5,0.0450),(351.5,0.0333),(353.3,0.0356),(353.3,0.0325),(346.3,0.0356),(347.5,0.0343),(350.0,0.0352),
    (351.0,0.0322),(352.3,0.0312),(358.7,0.0295),(359.5,0.0269),(361.7,0.0293),(362.5,0.0262),(363.7,0.0302),(365.2,0.0295),(366.0,0.0312),(367.4,0.0269),
    (368.2,0.0295),(369.2,0.0298),(363.2,0.0249),(364.0,0.0242),(362.5,0.0208),(365.4,0.0204),(366.2,0.0181),(367.4,0.0164),(371.7,0.0271),(377.0,0.0271),
    (378.4,0.0298),(371.6,0.0118),(372.8,0.0125),(374.0,0.0145),(374.5,0.0168),(376.6,0.0204),(377.1,0.0174),(370.0,0.0034),(371.9,0.0040),(368.2,0.0056),
    (375.9,0.0016),(377.2,0.0000),(364.2,0.0101),(364.9,0.0097),(365.9,0.0097),(357.8,0.0124),(357.5,0.0101),(359.5,0.0141),(359.9,0.0128),(360.9,0.0134),
    (361.5,0.0101),(360.5,0.0083),(361.7,0.0070),(362.7,0.0067),(355.0,0.0094),(356.3,0.0060),(357.0,0.0094),(358.4,0.0054),(358.8,0.0020),(357.3,0.0020),
    (355.8,0.0027),(354.3,0.0000),(355.8,0.0000),(357.5,-0.0007),(358.9,0.0000),(362.0,0.0007),(364.4,0.0027),(364.7,0.0007),(367.5,-0.0007),(369.0,-0.0007),
    (369.7,-0.0020),(351.0,-0.0047),(352.5,-0.0047),(351.5,-0.0034),(350.8,-0.0074),(352.8,-0.0067),(353.8,-0.0060),(355.0,-0.0060),(356.5,-0.0054),(356.3,-0.0081),
    (357.5,-0.0047),(359.0,-0.0051),(358.8,-0.0078),(353.5,-0.0108),(354.5,-0.0148),(355.5,-0.0121),(356.3,-0.0154),(356.9,-0.0128),(357.5,-0.0168),(359.7,-0.0128),
    (359.7,-0.0158),(362.4,-0.0161),(362.5,-0.0168),(363.5,-0.0108),(364.2,-0.0101),(365.5,-0.0094),(366.0,-0.0121),(367.6,-0.0128),(368.2,-0.0134),(367.5,-0.0161),
    (365.2,-0.0185),(364.7,-0.0047),(365.2,-0.0067),(367.4,-0.0078),(371.6,-0.0074),(372.7,-0.0074),(374.9,-0.0094),(375.5,-0.0134),(377.6,-0.0078),(371.6,-0.0192),
    (367.9,-0.0215),(367.9,-0.0204),(365.9,-0.0249),(367.5,-0.0279),(369.0,-0.0279),(364.4,-0.0245),(365.2,-0.0293),(364.0,-0.0275),(363.4,-0.0316),(364.9,-0.0343),
    (365.7,-0.0387),(378.4,-0.0164),(374.7,-0.0356),(373.5,-0.0486),(358.8,-0.0275),(359.3,-0.0249),(360.3,-0.0255),(361.5,-0.0285),(363.7,-0.0271),(363.4,-0.0285),
    (357.0,-0.0242),(358.0,-0.0289),(359.1,-0.0222),(355.6,-0.0275),(353.5,-0.0279),(353.3,-0.0339),(353.8,-0.0329),(357.3,-0.0356),(359.0,-0.0343),(361.0,-0.0383),
    (358.0,-0.0360),(355.3,-0.0436),(355.6,-0.0463),(356.4,-0.0494),(357.5,-0.0494),(359.5,-0.0459),(360.9,-0.0457),(362.0,-0.0450),(363.7,-0.0481),(364.0,-0.0490),
    (368.0,-0.0419),(368.1,-0.0463),(368.9,-0.0490),(370.1,-0.0436),(370.4,-0.0446),(355.3,-0.0544),(359.3,-0.0622),(349.4,-0.0685),(368.4,-0.0698),(349.8,-0.0571),
    (348.0,-0.0611),(347.3,-0.0598),(346.4,-0.0564),(344.6,-0.0557),(344.5,-0.0584),(343.3,-0.0544),(341.8,-0.0567),(340.8,-0.0591),(338.8,-0.0611),(337.6,-0.0571),
    (337.1,-0.0598),(350.3,-0.0508),(350.0,-0.0416),(348.7,-0.0423),(347.5,-0.0470),(346.0,-0.0457),(345.5,-0.0490),(343.3,-0.0490),(344.8,-0.0484),(343.1,-0.0450),
    (342.1,-0.0457),(340.6,-0.0511),(339.6,-0.0436),(339.1,-0.0470),(338.1,-0.0403),(337.3,-0.0497),(337.1,-0.0457),(351.0,-0.0336),(352.0,-0.0370),(350.0,-0.0370),
    (348.3,-0.0349),(347.8,-0.0370),(346.3,-0.0376),(345.0,-0.0336),(344.0,-0.0349),(342.5,-0.0370),(341.0,-0.0343),(339.2,-0.0343),(338.0,-0.0349),(336.5,-0.0376),
    (349.9,-0.0242),(349.3,-0.0269),(349.0,-0.0295),(350.8,-0.0295),(352.5,-0.0235),(353.3,-0.0242),(354.8,-0.0242),(353.4,-0.0271),(346.5,-0.0202),(348.0,-0.0188),
    (349.5,-0.0208),(351.0,-0.0215),(349.5,-0.0181),(347.5,-0.0161),(346.3,-0.0154),(345.0,-0.0161),(346.8,-0.0128),(347.2,-0.0134),(348.0,-0.0108),(349.5,-0.0121),
    (350.8,-0.0121),(351.0,-0.0094),(342.0,-0.0011),(343.5,-0.0011),(344.8,-0.0007),(345.8,-0.0007),(346.8,-0.0011),(348.8,0.0007),(351.0,0.0007),(352.0,0.0000),
    (353.0,0.0000),(345.0,0.0060),(347.3,0.0060),(349.0,0.0047),(350.0,0.0067),(350.5,0.0094),(352.5,0.0094),(353.3,0.0121),(347.0,0.0108),(345.0,0.0121),
    (345.5,0.0161),(347.0,0.0168),(349.0,0.0161),(350.5,0.0134),(353.5,0.0175),(355.0,0.0188),(355.3,0.0208),(357.5,0.0228),(353.3,0.0295),(353.8,0.0262),
    (355.0,0.0253),(356.0,0.0262),(354.8,0.0289),(351.0,0.0269),(349.3,0.0275),(347.8,0.0302),(346.0,0.0282),(344.8,0.0289),(344.0,0.0309),(342.5,0.0295),
    (343.5,0.0262),(344.8,0.0255),(345.5,0.0208),(343.0,0.0208),(342.0,0.0195),(340.1,0.0161),(339.1,0.0134),(338.1,0.0148),(337.1,0.0121),(336.6,0.0081),
    (337.6,0.0054),(339.1,0.0067),(340.1,0.0040),(341.1,0.0054),(342.0,0.0094),(343.0,0.0094),(343.5,0.0060),(344.5,0.0020),(336.1,0.0625),(337.1,0.0571),
    (338.1,0.0557),(339.6,0.0537),(340.3,0.0531),(341.1,0.0511),(341.6,0.0490),(342.5,0.0511),(343.5,0.0504),(344.5,0.0511),(345.0,0.0497),(346.0,0.0517),
    (340.1,0.0457),(341.1,0.0436),(342.5,0.0423),(343.5,0.0436),(345.0,0.0443),(347.5,0.0450),(349.0,0.0463),(337.6,0.0497),(337.1,0.0463),(339.1,0.0484),
    (338.1,0.0403),(337.1,0.0376),(339.6,0.0383),(340.6,0.0370),(341.6,0.0363),(342.5,0.0370),(344.0,0.0403),(345.5,0.0383),(336.1,0.0322),(337.1,0.0336),
    (338.6,0.0322),(339.6,0.0295),(340.6,0.0322),(336.1,0.0269),(337.6,0.0255),(339.1,0.0262),(341.1,0.0249),(336.6,0.0188),(338.1,0.0201),(339.6,0.0222),
    (341.1,0.0215),(336.6,0.0108),(337.6,0.0134),(336.1,-0.0054),(337.6,-0.0040),(339.1,-0.0047),(340.6,-0.0067),(342.0,-0.0054),(343.5,-0.0081),(345.0,-0.0067),
    (337.1,-0.0094),(338.6,-0.0108),(340.1,-0.0121),(341.6,-0.0101),(343.0,-0.0134),(344.5,-0.0114),(336.6,-0.0148),(338.1,-0.0168),(339.6,-0.0161),(341.1,-0.0175),
    (342.5,-0.0188),(344.0,-0.0175),(345.5,-0.0161),(337.1,-0.0215),(338.6,-0.0228),(340.1,-0.0242),(341.6,-0.0215),(343.0,-0.0249),(344.5,-0.0215),(345.5,-0.0242),
    (336.1,-0.0269),(337.6,-0.0282),(339.1,-0.0275),(340.6,-0.0295),(342.0,-0.0282),(343.5,-0.0309),(345.0,-0.0302),(336.6,-0.0322),(338.6,-0.0336),(340.1,-0.0309),
    (342.5,-0.0329),(346.0,-0.0282),(336.6,-0.0443),(339.1,-0.0423),(341.6,-0.0436),(344.0,-0.0416),(338.1,-0.0537),(340.6,-0.0531),(336.1,-0.0557),(339.1,-0.0577),
]

# Warm tail, above 376 K
warm_pts = [
    (380.6,0.0567),(385.4,0.0524),(383.6,0.0494),(385.7,0.0489),(380.0,0.0454),(381.2,0.0432),(383.7,0.0430),(388.2,0.0426),(380.0,0.0392),(389.5,0.0395),
    (389.8,0.0370),(394.5,0.0383),(397.6,0.0392),(399.3,0.0340),(407.8,0.0466),(414.2,0.0379),(378.3,0.0300),(383.4,0.0332),(385.3,0.0316),(390.4,0.0270),
    (388.9,0.0224),(389.4,0.0172),(381.3,0.0188),(395.8,0.0226),(395.8,0.0202),(397.4,0.0249),(405.2,0.0232),(407.2,0.0208),(405.9,0.0165),(407.7,0.0172),
    (410.4,0.0141),(413.9,0.0128),(412.2,0.0097),(413.6,0.0079),(410.8,0.0050),(379.5,0.0141),(378.6,0.0101),(387.9,0.0128),(393.4,0.0106),(383.3,0.0060),
    (385.7,0.0070),(383.7,0.0013),(389.8,-0.0003),(397.3,0.0047),(397.5,0.0040),(401.3,0.0078),(400.2,0.0034),(409.3,-0.0024),(381.1,-0.0034),(382.0,-0.0077),
    (383.2,-0.0063),(385.3,-0.0063),(387.5,-0.0019),(387.8,-0.0060),(389.3,-0.0047),(390.8,-0.0056),(393.7,-0.0077),(394.4,-0.0114),(397.3,-0.0110),(378.0,-0.0161),
    (379.8,-0.0175),(379.8,-0.0195),(382.9,-0.0150),(381.4,-0.0222),(386.4,-0.0199),(389.3,-0.0231),(389.8,-0.0266),(394.7,-0.0164),(395.0,-0.0211),(400.9,-0.0158),
    (378.2,-0.0285),(379.4,-0.0285),(380.1,-0.0302),(380.4,-0.0259),(383.3,-0.0329),(380.8,-0.0366),(381.6,-0.0398),(394.8,-0.0344),(397.3,-0.0462),(402.4,-0.0424),
    (409.7,-0.0366),(412.1,-0.0419),(414.5,-0.0333),(390.5,-0.0560),(381.5,0.0889),(376.0,0.0386),
]

bt, diff = [], []
row_sets = ((core_bt, core_diff_mk), (core_fill_bt, core_fill_diff_mk),
            (shoulder_bt, shoulder_diff_mk))
for rows_x, rows_mk in row_sets:
    for xs, ys in zip(rows_x, rows_mk):
        for a, b in zip(xs, ys):
            bt.append(a)
            diff.append(b / 1000.0)      # mK -> K
for group in (cold_pts, upper_pts, lower_pts, mid_pts, warm_pts):
    for a, b in group:
        bt.append(a)
        diff.append(b)

ink = "#222222"
font_family = "DejaVu Sans, Liberation Sans, sans-serif"

fig = go.Figure(
    go.Scatter(
        x=bt,
        y=diff,
        mode="markers",
        marker=dict(symbol="x-thin", size=5, color="black",
                    line=dict(width=1.2, color="black")),
        hoverinfo="skip",
        showlegend=False,
    )
)

# zero reference line across the full plot width
fig.add_hline(y=0, line=dict(color="black", width=1))

fig.update_layout(
    width=922,
    height=581,
    margin=dict(l=99, r=21, t=32, b=53),
    paper_bgcolor="white",
    plot_bgcolor="white",
    font=dict(family=font_family, size=16, color=ink),
    title=dict(
        text="Temperature Difference",
        x=0.5, xref="paper", xanchor="center",
        y=1 - 14 / 581, yref="container", yanchor="middle",
        font=dict(size=20.5, color=ink),
    ),
)

fig.update_xaxes(
    range=[300, 420],
    tick0=300, dtick=20,
    ticks="inside", ticklen=11, tickwidth=1, tickcolor=ink,
    minor=dict(dtick=5, ticks="inside", ticklen=5, tickwidth=1,
               tickcolor=ink, showgrid=False),
    showline=True, linecolor=ink, linewidth=1.5, mirror="ticks",
    showgrid=False, zeroline=False,
    tickfont=dict(size=16, color=ink),
    title=dict(text="4 micron Adjusted BT [K]", standoff=4,
               font=dict(size=17, color=ink)),
)
fig.update_yaxes(
    range=[-0.1, 0.1],
    tick0=0, dtick=0.05, tickformat=".2f",
    ticks="inside", ticklen=16, tickwidth=1, tickcolor=ink,
    minor=dict(dtick=0.01, ticks="inside", ticklen=8, tickwidth=1,
               tickcolor=ink, showgrid=False),
    showline=True, linecolor=ink, linewidth=1.5, mirror="ticks",
    showgrid=False, zeroline=False,
    tickfont=dict(size=16, color=ink),
    title=dict(text="4 micron Adjusted BT \u2013 Derived 4 micron BT [K]",
               standoff=8, font=dict(size=16, color=ink)),
)

fig.write_html("out.html")
